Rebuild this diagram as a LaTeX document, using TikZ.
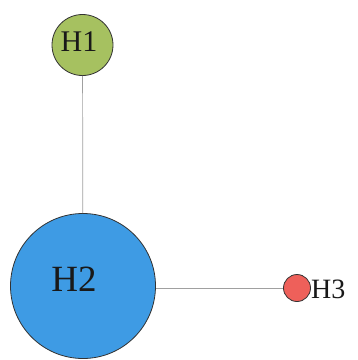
\documentclass[tikz,border=0pt]{standalone}
\usepackage{fontspec}
\setmainfont{Liberation Serif}
\definecolor{hgreen}{RGB}{166,193,96}
\definecolor{hblue}{RGB}{62,155,228}
\definecolor{hred}{RGB}{238,96,90}
\definecolor{edgegray}{RGB}{160,160,160}
\begin{document}
\begin{tikzpicture}[x=1pt,y=-1pt,
  vert/.style={circle,draw=black!80,line width=0.8pt,inner sep=0pt},
  lab/.style={inner sep=0pt,text=black!90},
  edge/.style={draw=edgegray,line width=0.7pt}]
\useasboundingbox (0,0) rectangle (358,360);
\node[vert,fill=hgreen,minimum size=61pt] (h1) at (82.5,45) {};
\node[vert,fill=hblue,minimum size=145pt] (h2) at (83,286) {};
\node[vert,fill=hred,minimum size=27pt] (h3) at (297,288) {};
\draw[edge] (h1) -- (h2);
\draw[edge] (h2.east |- h3) -- (h3);
\node[lab,font=\fontsize{30}{30}\selectfont] (t1) at (79,42) {H1};
\node[lab,font=\fontsize{37}{37}\selectfont] (t2) at (74,279) {H2};
\node[lab,font=\fontsize{28}{28}\selectfont,anchor=west] (t3) at (311,289) {H3};
\end{tikzpicture}
\end{document}
